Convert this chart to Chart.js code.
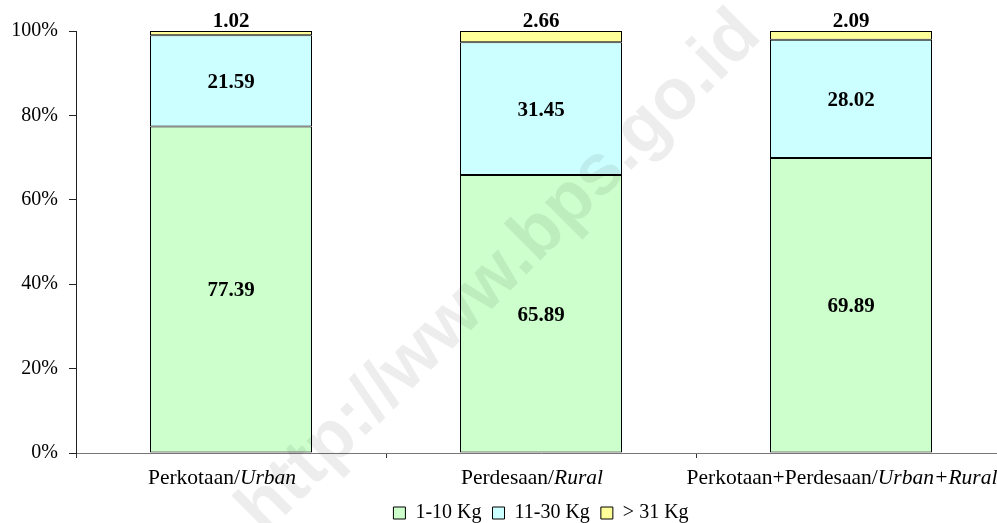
<!DOCTYPE html>
<html>
<head>
<meta charset="utf-8">
<script src="https://cdn.jsdelivr.net/npm/chart.js@4"></script>
<style>
  html, body { margin: 0; padding: 0; overflow: hidden; background: #fff; }
  canvas { display: block; }
</style>
</head>
<body>
<canvas id="kgChart" width="1006" height="523"></canvas>
<script>
// categories are "plain/italic": the part after the slash is set in italics
const categories = ["Perkotaan/Urban", "Perdesaan/Rural", "Perkotaan+Perdesaan/Urban+Rural"];
const seriesNames = ["1-10 Kg", "11-30 Kg", "> 31 Kg"];
const kg1to10 = [77.39, 65.89, 69.89];
const kg11to30 = [21.59, 31.45, 28.02];
const kgOver31 = [1.02, 2.66, 2.09];
const yTicks = [0, 20, 40, 60, 80, 100];
const watermarkText = "http://www.bps.go.id";

const serif = "'Liberation Serif', 'Times New Roman', serif";

// numbers on the bars; the top (yellow) one goes above the bar
const valueLabels = {
    id: "valueLabels",
    afterDatasetsDraw(chart) {
        const ctx = chart.ctx;
        const last = chart.data.datasets.length - 1;
        ctx.save();
        ctx.font = "bold 21px " + serif;
        ctx.fillStyle = "#000";
        ctx.textAlign = "center";
        ctx.textBaseline = "alphabetic";
        chart.data.datasets.forEach((ds, i) => {
            chart.getDatasetMeta(i).data.forEach((bar, j) => {
                const text = ds.data[j].toFixed(2);
                if (i === last) {
                    ctx.fillText(text, bar.x, bar.y - 4);
                } else {
                    ctx.fillText(text, bar.x, (bar.y + bar.base) / 2 + 7);
                }
            });
        });
        ctx.restore();
    }
};

// x labels with an italic english part (sit a little left of the bar centre, like the original)
const mixedLabels = {
    id: "mixedLabels",
    afterDraw(chart) {
        const ctx = chart.ctx;
        const xScale = chart.scales.x;
        const normal = "21.5px " + serif;
        const italic = "italic 21.5px " + serif;
        ctx.save();
        ctx.fillStyle = "#000";
        ctx.textAlign = "left";
        ctx.textBaseline = "alphabetic";
        categories.forEach((label, i) => {
            const cut = label.indexOf("/") + 1;
            const first = label.slice(0, cut);
            const second = label.slice(cut);
            ctx.font = normal;
            const w1 = ctx.measureText(first).width;
            ctx.font = italic;
            const w2 = ctx.measureText(second).width;
            const left = xScale.getPixelForValue(i) - (w1 + w2) / 2 - 9;
            ctx.font = normal;
            ctx.fillText(first, left, xScale.top + 31);
            ctx.font = italic;
            ctx.fillText(second, left + w1, xScale.top + 31);
        });
        ctx.restore();
    }
};

const watermark = {
    id: "watermark",
    afterDraw(chart) {
        const ctx = chart.ctx;
        ctx.save();
        ctx.translate(500, 273);
        ctx.rotate(-Math.PI / 4);
        ctx.font = "bold 72px 'Liberation Sans', Arial, sans-serif";
        ctx.fillStyle = "rgba(0,0,0,0.07)";
        ctx.textAlign = "center";
        ctx.textBaseline = "middle";
        ctx.fillText(watermarkText, 0, 0);
        ctx.restore();
    }
};

const barStyle = {
    borderColor: "#000",
    borderWidth: 1,
    borderSkipped: false,
    barPercentage: 162 / 310,
    categoryPercentage: 1
};

new Chart(document.getElementById("kgChart"), {
    type: "bar",
    data: {
        labels: categories,
        datasets: [
            { label: seriesNames[0], data: kg1to10, backgroundColor: "#CCFFCC", ...barStyle },
            { label: seriesNames[1], data: kg11to30, backgroundColor: "#CCFFFF", ...barStyle },
            { label: seriesNames[2], data: kgOver31, backgroundColor: "#FFFF99", ...barStyle }
        ]
    },
    options: {
        responsive: false,
        animation: false,
        devicePixelRatio: 1,
        layout: { padding: { top: 31, left: 0, right: 0, bottom: -10 } },
        plugins: {
            legend: {
                position: "bottom",
                fullSize: false,
                labels: {
                    boxWidth: 12,
                    boxHeight: 12,
                    padding: 11,
                    color: "#000",
                    font: { family: serif, size: 20 }
                }
            },
            tooltip: { enabled: false }
        },
        scales: {
            x: {
                stacked: true,
                border: { color: "#777" },
                grid: { drawOnChartArea: false, tickLength: 5, color: "#333" },
                ticks: { display: false },
                afterFit(scale) { scale.height = 39; }
            },
            y: {
                stacked: true,
                min: 0,
                max: 100,
                border: { color: "#222" },
                grid: { drawOnChartArea: false, tickLength: 7, color: "#222" },
                ticks: {
                    padding: 11,
                    color: "#000",
                    font: { family: serif, size: 20 },
                    callback: v => v + "%"
                },
                afterBuildTicks(scale) { scale.ticks = yTicks.map(v => ({ value: v })); },
                afterFit(scale) { scale.width = 76; }
            }
        }
    },
    plugins: [valueLabels, mixedLabels, watermark]
});
</script>
</body>
</html>
